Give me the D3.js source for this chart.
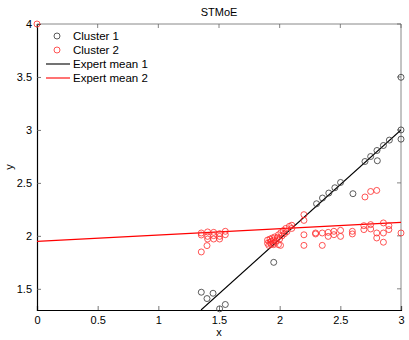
<!DOCTYPE html>
<html><head><meta charset="utf-8">
<script src="https://cdn.jsdelivr.net/npm/d3@7"></script>
<style>body{margin:0;background:#fff}svg{display:block}text{font-family:"Liberation Sans",Arial,sans-serif}</style>
</head><body><div id="c"></div>
<script>
const title = "STMoE";
const xTicks = [0, 0.5, 1, 1.5, 2, 2.5, 3];
const yTicks = [1.5, 2, 2.5, 3, 3.5, 4];
const seriesNames = ["Cluster 1", "Cluster 2", "Expert mean 1", "Expert mean 2"];

const cluster1X = [1.354,1.401,1.451,1.505,1.552,1.951,2.304,2.353,2.405,2.455,2.502,2.604,2.703,2.75,2.802,2.805,2.855,2.904,3.0,3.0,3.0];
const cluster1Y = [1.468,1.408,1.458,1.311,1.352,1.75,2.303,2.357,2.404,2.454,2.504,2.398,2.702,2.749,2.806,2.709,2.853,2.904,3.0,2.913,3.497];

const cluster2X = [0,
 1.354,1.354,1.406,1.406,1.456,1.456,1.505,1.505,1.552,1.552,1.406,1.456,1.505,1.401,1.354,
 1.90,1.90,1.91,1.92,1.92,1.93,1.93,1.94,1.95,1.95,1.96,1.97,1.98,1.99,2.00,2.01,2.02,2.03,2.04,2.05,2.06,2.08,2.10,2.10,1.95,1.99,2.007,
 2.2,2.2,2.2,2.2,
 2.296,2.296,2.351,2.351,2.4,2.4,2.447,2.447,2.502,2.502,2.599,2.599,2.694,2.694,2.75,2.75,2.8,2.8,2.855,2.855,2.855,2.9,2.9,3.0,
 2.703,2.75,2.8];
const cluster2Y = [4.0,
 2.027,2.008,2.037,1.995,2.033,2.002,2.021,1.995,2.043,2.011,1.97,1.97,1.97,1.908,1.848,
 1.93,1.96,1.91,1.94,1.97,1.92,1.95,1.98,1.93,1.96,1.99,1.95,1.98,2.01,1.97,2.03,2.00,2.05,2.02,2.07,2.04,2.09,2.10,2.07,1.917,1.917,1.91,
 2.2,2.146,2.01,1.91,
 2.027,2.018,2.027,1.91,2.033,1.995,2.043,2.011,2.052,1.995,2.043,2.018,2.096,2.059,2.106,2.065,2.027,1.98,2.122,2.027,1.94,2.096,2.059,2.027,
 2.367,2.419,2.429];

const mean1X = [1.352, 3.0];
const mean1Y = [1.30, 3.0];
const mean2X = [0, 3.0];
const mean2Y = [1.948, 2.127];

const W = 409, H = 340;
const m = {l:37, r:8, t:24, b:30};
const FS = 11;
const svg = d3.select("#c").append("svg").attr("width", W).attr("height", H);
const x = d3.scaleLinear().domain([0,3]).range([m.l, W - m.r]);
const y = d3.scaleLinear().domain([1.3,4]).range([H - m.b, m.t]);

svg.append("defs").append("clipPath").attr("id","clip").append("rect")
  .attr("x", x(0)).attr("y", y(4)).attr("width", x(3)-x(0)).attr("height", y(1.3)-y(4));

// title
svg.append("text").attr("x", (x(0)+x(3))/2).attr("y", 16).attr("text-anchor","middle")
  .attr("font-size", FS).text(title);

// frame top/right
svg.append("line").attr("x1", x(0)).attr("x2", x(3)).attr("y1", y(4)).attr("y2", y(4)).attr("stroke","#888").attr("stroke-width",1);
svg.append("line").attr("x1", x(3)).attr("x2", x(3)).attr("y1", y(4)).attr("y2", y(1.3)).attr("stroke","#888").attr("stroke-width",1);

// axes
const xAx = d3.axisBottom(x).tickValues(xTicks).tickSize(-4).tickPadding(6).tickFormat(d3.format("~g"));
const yAx = d3.axisLeft(y).tickValues(yTicks).tickSize(-4).tickPadding(5).tickFormat(d3.format("~g"));
const gx = svg.append("g").attr("transform", `translate(0,${y(1.3)})`).call(xAx);
const gy = svg.append("g").attr("transform", `translate(${x(0)},0)`).call(yAx);
[gx, gy].forEach(g => {
  g.select(".domain").attr("stroke","#000").attr("stroke-width",1.2);
  g.selectAll(".tick line").attr("stroke","#555").attr("stroke-width",0.8);
  g.selectAll("text").attr("font-size", FS).attr("fill","#000").style("font-family","Liberation Sans, Arial, sans-serif");
});
// top and right ticks
svg.append("g").selectAll("line").data(xTicks).join("line")
  .attr("x1", d=>x(d)).attr("x2", d=>x(d)).attr("y1", y(4)).attr("y2", y(4)+4).attr("stroke","#666").attr("stroke-width",0.8);
svg.append("g").selectAll("line").data(yTicks).join("line")
  .attr("x1", x(3)).attr("x2", x(3)-4).attr("y1", d=>y(d)).attr("y2", d=>y(d)).attr("stroke","#666").attr("stroke-width",0.8);

// axis labels
svg.append("text").attr("x", (x(0)+x(3))/2).attr("y", 336).attr("text-anchor","middle").attr("font-size", FS).text("x");
svg.append("text").attr("transform", `translate(13,${(y(4)+y(1.3))/2}) rotate(-90)`).attr("text-anchor","middle").attr("font-size", FS).text("y");

const plot = svg.append("g").attr("clip-path","url(#clip)");
const c1 = cluster1X.map((d,i)=>[d, cluster1Y[i]]);
const c2 = cluster2X.map((d,i)=>[d, cluster2Y[i]]);
const line = d3.line().x(d=>x(d[0])).y(d=>y(d[1]));

svg.append("g").selectAll("circle").data(c2).join("circle")
  .attr("cx", d=>x(d[0])).attr("cy", d=>y(d[1])).attr("r", 3)
  .attr("fill","none").attr("stroke","#ff2a2a").attr("stroke-width",0.8);
svg.append("g").selectAll("circle").data(c1).join("circle")
  .attr("cx", d=>x(d[0])).attr("cy", d=>y(d[1])).attr("r", 3)
  .attr("fill","none").attr("stroke","#333").attr("stroke-width",0.8);

plot.append("path").datum(mean1X.map((d,i)=>[d, mean1Y[i]])).attr("d", line)
  .attr("fill","none").attr("stroke","#000").attr("stroke-width",1.1);
plot.append("path").datum(mean2X.map((d,i)=>[d, mean2Y[i]])).attr("d", line)
  .attr("fill","none").attr("stroke","#f00").attr("stroke-width",1.1);

// legend
const lg = svg.append("g");
const lx = 46, ly = 36, dy = 14;
seriesNames.forEach((name, i) => {
  const yy = ly + i*dy;
  if (i < 2) {
    lg.append("circle").attr("cx", lx+11).attr("cy", yy).attr("r", 3).attr("fill","none")
      .attr("stroke", i===0 ? "#333" : "#ff2a2a").attr("stroke-width",0.8);
  } else {
    lg.append("line").attr("x1", lx).attr("x2", lx+24).attr("y1", yy).attr("y2", yy)
      .attr("stroke", i===2 ? "#000" : "#f00").attr("stroke-width",1.1);
  }
  lg.append("text").attr("x", lx+27).attr("y", yy+4).attr("font-size", 11.5).text(name);
});
</script></body></html>
